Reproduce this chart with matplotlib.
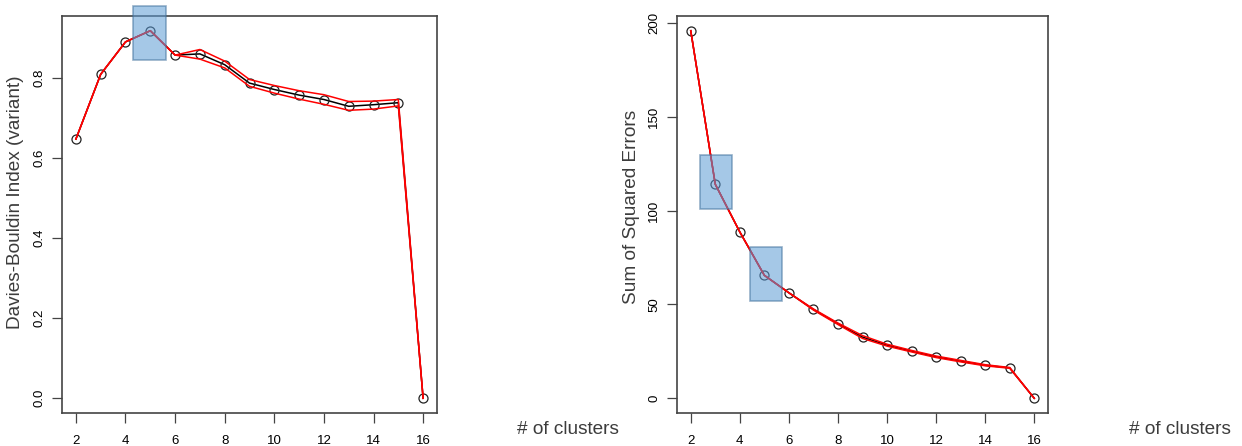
import matplotlib.pyplot as plt
from matplotlib.patches import Rectangle

# data
k = list(range(2, 17))
dbi = [0.648, 0.810, 0.891, 0.919, 0.858, 0.861, 0.834, 0.788, 0.772, 0.758, 0.747, 0.730, 0.734, 0.739, 0.0]
dbi_hi = [0.648, 0.810, 0.891, 0.919, 0.858, 0.872, 0.843, 0.797, 0.782, 0.769, 0.759, 0.742, 0.743, 0.747, 0.0]
dbi_lo = [0.648, 0.810, 0.891, 0.919, 0.858, 0.848, 0.826, 0.780, 0.763, 0.748, 0.735, 0.720, 0.723, 0.731, 0.0]

sse = [195.8, 114.0, 88.6, 65.5, 56.2, 47.3, 39.7, 32.6, 28.3, 25.1, 22.1, 19.8, 17.6, 16.2, 0.0]
sse_hi = [195.8, 114.0, 88.6, 65.5, 56.2, 47.6, 40.1, 33.4, 28.8, 25.5, 22.5, 20.2, 17.9, 16.4, 0.0]
sse_lo = [195.8, 114.0, 88.6, 65.5, 56.2, 47.0, 39.3, 31.9, 27.8, 24.7, 21.7, 19.4, 17.3, 16.0, 0.0]

# highlight boxes (x0, x1, y0, y1)
box_left = [(4.3, 5.63, 0.845, 0.98)]
box_right = [(2.38, 3.68, 100.7, 129.5), (4.40, 5.72, 51.8, 80.4)]

tick_font = 'Liberation Sans'
label_font = 'Liberation Sans'
label_color = '#3c3c3c'

fig = plt.figure(figsize=(12.42, 4.46), dpi=100)
ax1 = fig.add_axes([62 / 1242, 1 - 413 / 446, 375 / 1242, 397 / 446])
ax2 = fig.add_axes([677 / 1242, 1 - 413 / 446, 371 / 1242, 397 / 446])


def draw(ax, y, hi, lo, boxes, ylabel, yticks, yfmt, label_y):
    ax.plot(k, y, color='black', lw=1.1, marker='o', ms=6.5, mfc='none', mec='#222222', mew=0.9, zorder=3)
    ax.plot(k, hi, color='red', lw=1.1, zorder=4)
    ax.plot(k, lo, color='red', lw=1.1, zorder=4)
    for x0, x1, y0, y1 in boxes:
        ax.add_patch(Rectangle((x0, y0), x1 - x0, y1 - y0, facecolor='#5b9bd5', alpha=0.55,
                               edgecolor='#41719c', lw=1.2, clip_on=False, zorder=5))
    rng = max(y) - min(y)
    ax.set_ylim(min(y) - 0.04 * rng, max(y) + 0.04 * rng)
    ax.set_xlim(2 - 0.04 * 14, 16 + 0.04 * 14)
    ax.set_xticks(range(2, 17, 2))
    ax.set_yticks(yticks)
    ax.set_yticklabels([yfmt.format(v) for v in yticks], rotation=90, va='center')
    for lab in ax.get_xticklabels() + ax.get_yticklabels():
        lab.set_fontfamily(tick_font)
        lab.set_fontsize(9.5)
    ax.tick_params(direction='out', length=7, width=0.9, color='#444444')
    ax.tick_params(axis='x', pad=9)
    ax.tick_params(axis='y', pad=5)
    for s in ax.spines.values():
        s.set_color('#444444')
        s.set_linewidth(1.2)
    ax.set_ylabel(ylabel, family=label_font, fontsize=13.7, color=label_color)
    ax.yaxis.set_label_coords(-0.101, label_y)


draw(ax1, dbi, dbi_hi, dbi_lo, box_left, 'Davies-Bouldin Index (variant)',
     [0.0, 0.2, 0.4, 0.6, 0.8], '{:.1f}', 0.53)
draw(ax2, sse, sse_hi, sse_lo, box_right, 'Sum of Squared Errors',
     [0, 50, 100, 150, 200], '{:d}', 0.52)

fig.text(517 / 1242, 1 - 430 / 446, '# of clusters', family=label_font, fontsize=13.7,
         color=label_color, va='center', ha='left')
fig.text(1129 / 1242, 1 - 430 / 446, '# of clusters', family=label_font, fontsize=13.7,
         color=label_color, va='center', ha='left')

fig.savefig('out.png', dpi=100)
